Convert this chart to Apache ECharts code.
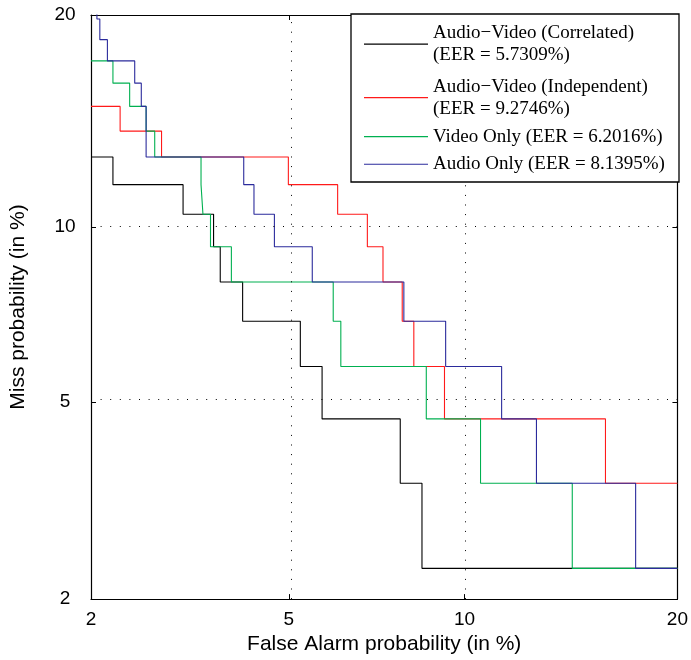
<!DOCTYPE html>
<html><head><meta charset="utf-8">
<script src="https://cdn.jsdelivr.net/npm/echarts@6/dist/echarts.min.js"></script>
<style>html,body{margin:0;padding:0;background:#fff}#c{width:691px;height:660px}</style>
</head><body><div id="c"></div>
<script>
// Tick labels (percent)
const tickLabels = [2, 5, 10, 20];
const gridLabels = [5, 10];
const axisMin = 2, axisMax = 20;

const seriesNames = [
  'Audio\u2212Video (Correlated)\n(EER = 5.7309%)',
  'Audio\u2212Video (Independent)\n(EER = 9.2746%)',
  'Video Only (EER = 6.2016%)',
  'Audio Only (EER = 8.1395%)'
];
const seriesColors = ['#000000', '#ff1a1a', '#00b050', '#2b2b9c'];

// Step corners: false alarm (%) and miss (%)
const corrFA   = [2, 2.23, 3.12, 3.59, 3.70, 4.09, 5.25, 5.75, 7.86, 8.54, 20];
const corrMiss = [12.79, 11.63, 10.47, 9.30, 8.14, 6.98, 5.81, 4.65, 3.49, 2.33, 2.33];

const indepFA   = [2, 2.31, 2.82, 4.99, 6.13, 6.91, 7.35, 7.92, 8.28, 9.29, 16.10, 20];
const indepMiss = [15.12, 13.95, 12.79, 11.63, 10.47, 9.30, 8.14, 6.98, 5.81, 4.65, 3.49, 3.49];

const videoFA   = [2, 2.23, 2.42, 2.62, 2.73, 3.39, 3.42, 3.54, 3.89, 6.02, 6.21, 8.68, 10.59, 14.48, 20];
const videoMiss = [17.44, 16.28, 15.12, 13.95, 12.79, 11.63, 10.47, 9.30, 8.14, 6.98, 5.81, 4.65, 3.49, 2.33, 2.33];

const audioFA   = [2, 2.06, 2.09, 2.17, 2.48, 2.56, 2.62, 4.11, 4.30, 4.70, 5.52, 7.97, 9.33, 11.41, 12.86, 17.67, 20];
const audioMiss = [20.93, 19.77, 18.60, 17.44, 16.28, 15.12, 12.79, 11.63, 10.47, 9.30, 8.14, 6.98, 5.81, 4.65, 3.49, 2.33, 2.33];

// Normal deviate scale (inverse normal CDF, Acklam)
function probit(p){
  const a=[-3.969683028665376e+01,2.209460984245205e+02,-2.759285104469687e+02,1.383577518672690e+02,-3.066479806614716e+01,2.506628277459239e+00];
  const b=[-5.447609879822406e+01,1.615858368580409e+02,-1.556989798598866e+02,6.680131188771972e+01,-1.328068155288572e+01];
  const c=[-7.784894002430293e-03,-3.223964580411365e-01,-2.400758277161838e+00,-2.549732539343734e+00,4.374664141464968e+00,2.938163982698783e+00];
  const d=[7.784695709041462e-03,3.224671290700398e-01,2.445134137142996e+00,3.754408661907416e+00];
  const pl=0.02425, ph=1-pl; let q,r;
  if(p<pl){q=Math.sqrt(-2*Math.log(p));return (((((c[0]*q+c[1])*q+c[2])*q+c[3])*q+c[4])*q+c[5])/((((d[0]*q+d[1])*q+d[2])*q+d[3])*q+1);}
  if(p<=ph){q=p-0.5;r=q*q;return (((((a[0]*r+a[1])*r+a[2])*r+a[3])*r+a[4])*r+a[5])*q/(((((b[0]*r+b[1])*r+b[2])*r+b[3])*r+b[4])*r+1);}
  q=Math.sqrt(-2*Math.log(1-p));return -(((((c[0]*q+c[1])*q+c[2])*q+c[3])*q+c[4])*q+c[5])/((((d[0]*q+d[1])*q+d[2])*q+d[3])*q+1);
}
const P = v => probit(v/100);
const tickVals = tickLabels.map(P);
function fmt(v){
  let best = tickLabels[0], bd = Infinity;
  tickLabels.forEach((t,i)=>{const dd=Math.abs(tickVals[i]-v); if(dd<bd){bd=dd;best=t;}});
  return String(best);
}
const pairs = (fa, miss) => fa.map((f,i)=>[P(f), P(miss[i])]);
const allData = [pairs(corrFA,corrMiss), pairs(indepFA,indepMiss), pairs(videoFA,videoMiss), pairs(audioFA,audioMiss)];

const sansFont = 'Liberation Sans, Arial, Helvetica, sans-serif';
const serifFont = 'Liberation Serif, Times New Roman, serif';
const tickStyle = {show:true, inside:true, length:5, customValues: tickVals, lineStyle:{color:'#000', width:1}};
const axisBase = (pos) => ({
  type:'value', position: pos, min: P(axisMin), max: P(axisMax),
  axisLine:{show:true, onZero:false, lineStyle:{color:'#000', width:1.2}},
  axisTick: tickStyle,
  splitLine:{show:false}
});

const xMain = Object.assign(axisBase('bottom'), {
  name:'False Alarm probability (in %)', nameLocation:'middle', nameGap:22,
  nameTextStyle:{fontFamily:sansFont, fontSize:21, color:'#000'},
  axisLabel:{show:true, customValues: tickVals, formatter: fmt, margin:11, fontFamily:sansFont, fontSize:19, color:'#000'}
});
const xTop = Object.assign(axisBase('top'), {axisLabel:{show:false}});
const yMain = Object.assign(axisBase('left'), {
  name:'Miss probability (in %)', nameLocation:'middle', nameGap:62,
  nameTextStyle:{fontFamily:sansFont, fontSize:21, color:'#000'},
  axisLabel:{show:true, customValues: tickVals, formatter: fmt, margin:26, align:'center', fontFamily:sansFont, fontSize:19, color:'#000'}
});
const yRight = Object.assign(axisBase('right'), {axisLabel:{show:false}});

const gridLineData = [];
gridLabels.forEach(g => { gridLineData.push({xAxis: P(g)}); gridLineData.push({yAxis: P(g)}); });

const series = [{
  type:'line', data:[], silent:true, z:1, xAxisIndex:0, yAxisIndex:0,
  markLine:{silent:true, symbol:['none','none'], label:{show:false},
    lineStyle:{type:[1,8.6], color:'#000', width:1}, animation:false, data: gridLineData}
}];
allData.forEach((d,i)=>{
  series.push({
    name: seriesNames[i], type:'line', step:'end', data:d, showSymbol:false, symbol:'none',
    xAxisIndex:0, yAxisIndex:0, z:2, clip:true, animation:false,
    lineStyle:{color: seriesColors[i], width:1.1}, itemStyle:{color: seriesColors[i]}
  });
});

const legendBase = {
  orient:'vertical', left:364, padding:0, itemGap:5.9, itemWidth:64, itemHeight:1.2, icon:'rect',
  textStyle:{fontFamily: serifFont, fontSize:19, lineHeight:21.7, color:'#000'},
  selectedMode:false, z:12
};
const legends = [
  Object.assign({}, legendBase, {data:[seriesNames[0]], top:22.5}),
  Object.assign({}, legendBase, {data:[seriesNames[1]], top:76}),
  Object.assign({}, legendBase, {data:[seriesNames[2], seriesNames[3]], top:125.8})
];

const chart = echarts.init(document.getElementById('c'), null, {renderer:'canvas'});
chart.setOption({
  animation:false,
  backgroundColor:'#fff',
  grid:{left:90, right:12, top:15, bottom:60, containLabel:false},
  xAxis:[xMain, xTop],
  yAxis:[yMain, yRight],
  legend: legends,
  graphic:[{
    type:'rect', z:10, silent:true,
    shape:{x:351, y:14, width:328, height:168},
    style:{fill:'#fff', stroke:'#000', lineWidth:1.3}
  }],
  series: series
});
</script></body></html>
